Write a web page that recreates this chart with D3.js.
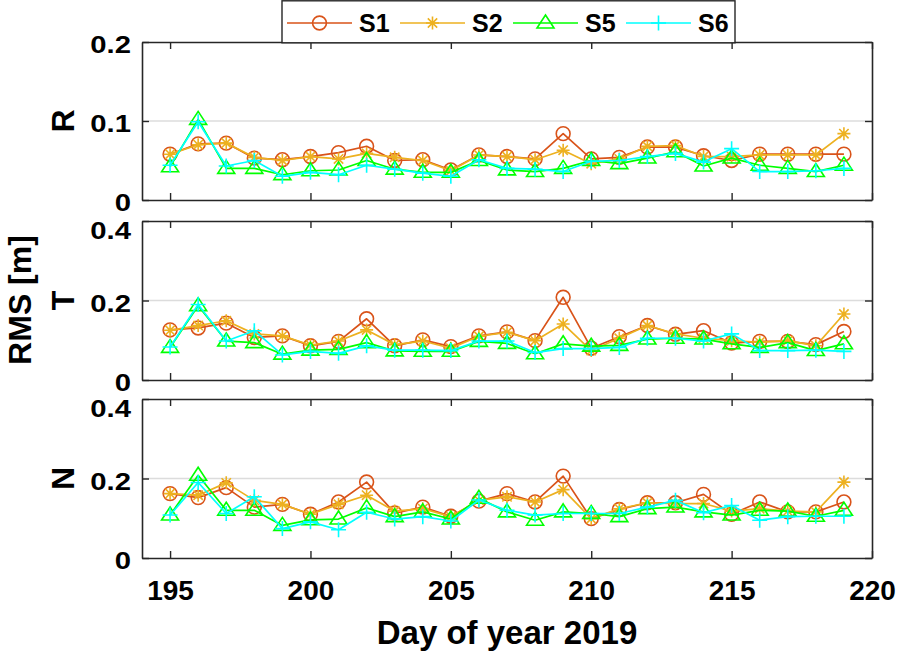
<!DOCTYPE html>
<html>
<head>
<meta charset="utf-8">
<script src="https://cdn.jsdelivr.net/npm/d3@7"></script>
<style>
  html, body { margin: 0; padding: 0; background: #fff; }
  svg { display: block; font-family: "Liberation Sans", Arial, Helvetica, sans-serif; font-weight: bold; }
</style>
</head>
<body>
<svg id="chart" width="898" height="653"></svg>
<script>
// ---------- data ----------
const days = [195,196,197,198,199,200,201,202,203,204,205,206,207,208,209,210,211,212,213,214,215,216,217,218,219];
const seriesNames = ["S1","S2","S5","S6"];
const seriesColors = ["#D95319","#EDB120","#00FF00","#00FFFF"];
const seriesMarkers = ["circle","star","triangle","plus"];
const panelNames = ["R","T","N"];
const panelMax = [0.2, 0.4, 0.4];
const panelTicks = [[0,0.1,0.2],[0,0.2,0.4],[0,0.2,0.4]];
const xTicks = [195,200,205,210,215,220];

// R component
const R_S1 = [0.058,0.071,0.072,0.053,0.051,0.055,0.060,0.068,0.050,0.051,0.038,0.057,0.055,0.052,0.084,0.052,0.054,0.067,0.067,0.056,0.050,0.058,0.058,0.058,0.058];
const R_S2 = [0.058,0.070,0.072,0.054,0.050,0.055,0.052,0.059,0.054,0.050,0.037,0.057,0.055,0.051,0.063,0.046,0.052,0.068,0.069,0.055,0.055,0.057,0.057,0.057,0.084];
const R_S5 = [0.042,0.102,0.040,0.040,0.032,0.037,0.038,0.050,0.039,0.035,0.035,0.050,0.038,0.036,0.040,0.050,0.046,0.053,0.061,0.043,0.053,0.044,0.040,0.036,0.044];
const R_S6 = [0.044,0.099,0.043,0.050,0.030,0.035,0.032,0.044,0.039,0.034,0.030,0.051,0.040,0.039,0.036,0.049,0.050,0.055,0.059,0.048,0.065,0.036,0.036,0.037,0.040];
// T component
const T_S1 = [0.126,0.131,0.143,0.107,0.111,0.086,0.097,0.154,0.086,0.101,0.084,0.111,0.121,0.099,0.208,0.080,0.109,0.137,0.115,0.124,0.093,0.097,0.097,0.089,0.122];
const T_S2 = [0.125,0.137,0.149,0.116,0.111,0.088,0.098,0.126,0.089,0.098,0.080,0.110,0.120,0.099,0.141,0.074,0.105,0.137,0.116,0.105,0.099,0.095,0.099,0.086,0.166];
const T_S5 = [0.082,0.187,0.098,0.094,0.065,0.075,0.077,0.094,0.073,0.072,0.072,0.097,0.092,0.066,0.091,0.085,0.087,0.103,0.105,0.103,0.091,0.082,0.094,0.074,0.091];
const T_S6 = [0.083,0.190,0.098,0.124,0.063,0.072,0.067,0.086,0.075,0.075,0.074,0.098,0.098,0.069,0.079,0.079,0.082,0.105,0.105,0.098,0.116,0.074,0.074,0.075,0.072];
// N component
const N_S1 = [0.162,0.152,0.177,0.128,0.135,0.110,0.141,0.191,0.113,0.128,0.105,0.143,0.162,0.141,0.206,0.099,0.122,0.139,0.139,0.160,0.110,0.141,0.116,0.116,0.141];
const N_S2 = [0.162,0.158,0.189,0.145,0.135,0.110,0.135,0.158,0.118,0.124,0.104,0.145,0.154,0.141,0.172,0.099,0.124,0.139,0.137,0.137,0.118,0.124,0.118,0.116,0.191];
const N_S5 = [0.108,0.208,0.120,0.120,0.082,0.096,0.098,0.126,0.104,0.116,0.098,0.150,0.116,0.095,0.116,0.112,0.104,0.124,0.128,0.116,0.108,0.120,0.118,0.105,0.120];
const N_S6 = [0.108,0.190,0.112,0.154,0.074,0.091,0.071,0.115,0.098,0.104,0.093,0.146,0.120,0.108,0.112,0.112,0.112,0.128,0.145,0.114,0.132,0.095,0.104,0.105,0.105];

const panelData = [[R_S1,R_S2,R_S5,R_S6],[T_S1,T_S2,T_S5,T_S6],[N_S1,N_S2,N_S5,N_S6]];

// ---------- layout ----------
const svg = d3.select("#chart");
const left = 142, right = 872;
const panelY = [[42,200],[221,380],[399,558]];
const axisColor = "#262626";

const x = d3.scaleLinear().domain([194,220]).range([left,right]);

function markerPath(type) {
  if (type === "circle") return d3.symbol(d3.symbolCircle, 150)();
  if (type === "triangle") {
    const w = 8.5, h = 13;
    return `M0,${-h*0.62}L${w},${h*0.38}L${-w},${h*0.38}Z`;
  }
  if (type === "plus") { const s = 7.5; return `M${-s},0L${s},0M0,${-s}L0,${s}`; }
  if (type === "star") {
    const s = 6.5, d = s*0.72;
    return `M${-s},0L${s},0M0,${-s}L0,${s}M${-d},${-d}L${d},${d}M${-d},${d}L${d},${-d}`;
  }
}

const yLabelScale = 1.22;

panelNames.forEach((pn, pi) => {
  const [y0, y1] = panelY[pi];
  const y = d3.scaleLinear().domain([0, panelMax[pi]]).range([y1, y0]);
  const g = svg.append("g");

  // grid lines
  g.selectAll("line.grid").data(panelTicks[pi].slice(1, -1)).join("line")
    .attr("x1", left).attr("x2", right)
    .attr("y1", d => y(d)).attr("y2", d => y(d))
    .attr("stroke", "#dcdcdc").attr("stroke-width", 1.5);

  // axes (box with inward ticks)
  const bottom = d3.axisBottom(x).tickValues(xTicks).tickSizeInner(-7).tickSizeOuter(0).tickFormat(pi === 2 ? d3.format("d") : () => "");
  const top = d3.axisTop(x).tickValues(xTicks).tickSizeInner(-7).tickSizeOuter(0).tickFormat(() => "");
  const leftAx = d3.axisLeft(y).tickValues(panelTicks[pi]).tickSizeInner(-7).tickSizeOuter(0).tickFormat(d => d === 0 ? "0" : d3.format(".1f")(d));
  const rightAx = d3.axisRight(y).tickValues(panelTicks[pi]).tickSizeInner(-7).tickSizeOuter(0).tickFormat(() => "");

  const gb = g.append("g").attr("transform", `translate(0,${y1})`).call(bottom);
  const gt = g.append("g").attr("transform", `translate(0,${y0})`).call(top);
  const gl = g.append("g").attr("transform", `translate(${left},0)`).call(leftAx);
  const gr = g.append("g").attr("transform", `translate(${right},0)`).call(rightAx);
  [gb, gt, gl, gr].forEach(a => {
    a.select(".domain").attr("stroke", axisColor).attr("stroke-width", 1.6);
    a.selectAll(".tick line").attr("stroke", axisColor).attr("stroke-width", 1.4);
    a.selectAll(".tick text").attr("fill", "#000").attr("font-weight", "bold")
      .attr("font-family", "'Liberation Sans', Arial, sans-serif");
  });
  // y tick labels: slightly widened, top label nudged down in lower panels
  gl.selectAll(".tick text")
    .attr("font-size", 24)
    .attr("x", -11 / yLabelScale)
    .attr("dy", "0.36em")
    .attr("transform", d => `translate(0,${(pi > 0 && d === panelMax[pi]) ? 9 : 2}) scale(${yLabelScale},1)`);
  gb.selectAll(".tick text").attr("font-size", 28).attr("y", 22);

  // panel label
  svg.append("text")
    .attr("transform", `translate(${74},${(y0 + y1) / 2}) rotate(-90)`)
    .attr("text-anchor", "middle")
    .attr("font-size", 32).attr("fill", "#000")
    .text(pn);

  // series
  panelData[pi].forEach((vals, si) => {
    const pts = days.map((d, i) => [x(d), y(vals[i])]);
    g.append("path")
      .attr("d", d3.line()(pts))
      .attr("fill", "none")
      .attr("stroke", seriesColors[si])
      .attr("stroke-width", 1.7)
      .attr("stroke-linejoin", "round");
    g.selectAll(null).data(pts).join("path")
      .attr("transform", p => `translate(${p[0]},${p[1]})`)
      .attr("d", markerPath(seriesMarkers[si]))
      .attr("fill", "none")
      .attr("stroke", seriesColors[si])
      .attr("stroke-width", 1.6);
  });
});

// x-axis title
svg.append("text")
  .attr("x", (left + right) / 2).attr("y", 644)
  .attr("text-anchor", "middle")
  .attr("font-size", 33).attr("fill", "#000")
  .text("Day of year 2019");

// y-axis title
svg.append("text")
  .attr("transform", `translate(31,300) rotate(-90)`)
  .attr("text-anchor", "middle")
  .attr("font-size", 32).attr("fill", "#000")
  .text("RMS [m]");

// legend
const lg = svg.append("g");
lg.append("rect")
  .attr("x", 282).attr("y", 0.8).attr("width", 453).attr("height", 42)
  .attr("fill", "#fff").attr("stroke", axisColor).attr("stroke-width", 1.4);
const legendX = [287, 400, 513, 626];
seriesNames.forEach((name, si) => {
  const lx = legendX[si];
  lg.append("line").attr("x1", lx).attr("x2", lx + 65).attr("y1", 23).attr("y2", 23)
    .attr("stroke", seriesColors[si]).attr("stroke-width", 1.7);
  lg.append("path").attr("transform", `translate(${lx + 32.5},23)`)
    .attr("d", markerPath(seriesMarkers[si]))
    .attr("fill", "none").attr("stroke", seriesColors[si]).attr("stroke-width", 1.6);
  lg.append("text").attr("x", lx + 72).attr("y", 32)
    .attr("font-size", 25).attr("fill", "#000").text(name);
});
</script>
</body>
</html>
